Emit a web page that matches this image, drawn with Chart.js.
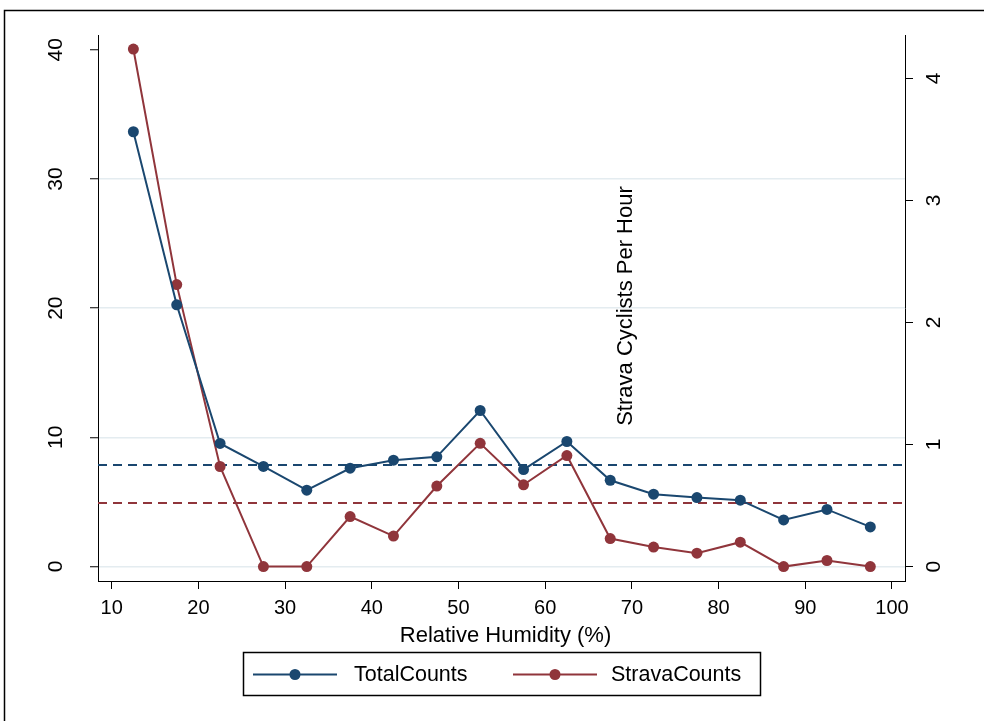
<!DOCTYPE html>
<html>
<head>
<meta charset="utf-8">
<script src="https://cdn.jsdelivr.net/npm/chart.js@4/dist/chart.umd.min.js"></script>
<style>
  html, body { margin: 0; padding: 0; background: #ffffff; }
  #wrap { width: 984px; height: 721px; position: relative; }
</style>
</head>
<body>
<div id="wrap"><canvas id="c" width="984" height="721"></canvas></div>
<script>
// ---- data ----
const humidity = [12.5, 17.5, 22.5, 27.5, 32.5, 37.5, 42.5, 47.5, 52.5, 57.5, 62.5, 67.5, 72.5, 77.5, 82.5, 87.5, 92.5, 97.5];
const totalCounts = [33.66, 20.26, 9.53, 7.75, 5.91, 7.61, 8.23, 8.49, 12.08, 7.51, 9.68, 6.68, 5.60, 5.34, 5.14, 3.61, 4.42, 3.07];
const stravaCounts = [4.24, 2.31, 0.82, 0.0, 0.0, 0.41, 0.25, 0.66, 1.01, 0.67, 0.91, 0.23, 0.16, 0.11, 0.20, 0.0, 0.05, 0.0];
const totalMean = 7.87;
const stravaMean = 0.52;
const seriesNames = ['TotalCounts', 'StravaCounts'];
const xTicks = [10, 20, 30, 40, 50, 60, 70, 80, 90, 100];
const leftTicks = [0, 10, 20, 30, 40];
const rightTicks = [0, 1, 2, 3, 4];
const xRange = [8.42, 101.5];
const leftRange = [-1.12, 41.15];
const rightRange = [-0.118, 4.355];
const xTitle = 'Relative Humidity (%)';
const rightTitle = 'Strava Cyclists Per Hour';

// ---- styles ----
const NAVY = '#1a476f';
const MAROON = '#90353b';
const GRID = '#e4ecf0';
const FONT = "'Liberation Sans', Arial, Helvetica, sans-serif";

const toPoints = (xs, ys) => xs.map((x, i) => ({ x: x, y: ys[i] }));

const decorPlugin = {
  id: 'decor',
  afterDraw(chart) {
    const ctx = chart.ctx;
    const ca = chart.chartArea;
    const yL = chart.scales.y;
    const yR = chart.scales.y2;
    ctx.save();
    ctx.fillStyle = '#000';
    ctx.textAlign = 'center';
    ctx.textBaseline = 'middle';
    // rotated tick labels
    ctx.font = '21px ' + FONT;
    yL.ticks.forEach(t => {
      const py = yL.getPixelForValue(t.value);
      ctx.save(); ctx.translate(55, py); ctx.rotate(-Math.PI / 2);
      ctx.fillText(String(t.value), 0, 1); ctx.restore();
    });
    yR.ticks.forEach(t => {
      const py = yR.getPixelForValue(t.value);
      ctx.save(); ctx.translate(933, py); ctx.rotate(-Math.PI / 2);
      ctx.fillText(String(t.value), 0, 1); ctx.restore();
    });
    // right axis title (drawn inside plot, as in original)
    ctx.font = '22px ' + FONT;
    ctx.save(); ctx.translate(626, 306); ctx.rotate(-Math.PI / 2);
    ctx.fillText(rightTitle, 0, 0); ctx.restore();
    // x title
    const cx = (ca.left + ca.right) / 2 + 4;
    ctx.fillText(xTitle, cx, 636);
    // legend
    const bx = 243.5, by = 652.5, bw = 517, bh = 43;
    ctx.strokeStyle = '#000'; ctx.lineWidth = 1.5;
    ctx.strokeRect(bx, by, bw, bh);
    const ly = 674.5;
    const entries = [
      { x0: 253, color: chart.data.datasets[0].borderColor, text: seriesNames[0], tx: 354 },
      { x0: 513, color: chart.data.datasets[1].borderColor, text: seriesNames[1], tx: 611 }
    ];
    ctx.font = '21.5px ' + FONT;
    ctx.textAlign = 'left';
    entries.forEach(e => {
      ctx.strokeStyle = e.color; ctx.lineWidth = 2;
      ctx.beginPath(); ctx.moveTo(e.x0, ly); ctx.lineTo(e.x0 + 84, ly); ctx.stroke();
      ctx.fillStyle = e.color;
      ctx.beginPath(); ctx.arc(e.x0 + 42, ly, 5.5, 0, Math.PI * 2); ctx.fill();
      ctx.fillStyle = '#000';
      ctx.fillText(e.text, e.tx, ly + 1);
    });
    // outer frame
    ctx.strokeStyle = '#000'; ctx.lineWidth = 1.5;
    ctx.strokeRect(4.5, 10.5, 1200, 1000);
    ctx.restore();
  }
};

new Chart(document.getElementById('c'), {
  type: 'line',
  data: {
    datasets: [
      { label: seriesNames[0], data: toPoints(humidity, totalCounts), yAxisID: 'y',
        borderColor: NAVY, backgroundColor: NAVY, borderWidth: 2, pointRadius: 5.5,
        pointBorderWidth: 0, pointHoverRadius: 5.5, tension: 0, order: 1 },
      { label: seriesNames[1], data: toPoints(humidity, stravaCounts), yAxisID: 'y2',
        borderColor: MAROON, backgroundColor: MAROON, borderWidth: 2, pointRadius: 5.5,
        pointBorderWidth: 0, pointHoverRadius: 5.5, tension: 0, order: 1 },
      { label: 'TotalMean', data: [{ x: xRange[0], y: totalMean }, { x: xRange[1], y: totalMean }],
        yAxisID: 'y', borderColor: NAVY, borderWidth: 2, borderDash: [9, 6], pointRadius: 0, order: 2 },
      { label: 'StravaMean', data: [{ x: xRange[0], y: stravaMean }, { x: xRange[1], y: stravaMean }],
        yAxisID: 'y2', borderColor: MAROON, borderWidth: 2, borderDash: [9, 6], pointRadius: 0, order: 2 }
    ]
  },
  options: {
    responsive: false,
    animation: false,
    layout: { padding: { top: 35, left: 0, right: 0, bottom: 0 } },
    plugins: { legend: { display: false }, tooltip: { enabled: false }, title: { display: false } },
    scales: {
      x: {
        type: 'linear', position: 'bottom', min: xRange[0], max: xRange[1],
        afterBuildTicks: s => { s.ticks = xTicks.map(v => ({ value: v })); },
        afterFit: s => { s.height = 140; },
        grid: { drawOnChartArea: false, drawTicks: true, tickLength: 8, tickColor: '#000', tickWidth: 1 },
        border: { display: true, color: '#000', width: 1 },
        ticks: { color: '#000', font: { family: FONT, size: 20 }, padding: 7, maxRotation: 0, minRotation: 0 }
      },
      y: {
        type: 'linear', position: 'left', min: leftRange[0], max: leftRange[1],
        afterBuildTicks: s => { s.ticks = leftTicks.map(v => ({ value: v })); },
        afterFit: s => { s.width = 98; },
        grid: {
          color: c => (c.tick && c.tick.value === leftTicks[leftTicks.length - 1]) ? 'rgba(0,0,0,0)' : GRID,
          lineWidth: 1.5, drawTicks: true, tickLength: 8, tickColor: '#000', tickWidth: 1
        },
        border: { display: true, color: '#000', width: 1 },
        ticks: { display: false }
      },
      y2: {
        type: 'linear', position: 'right', min: rightRange[0], max: rightRange[1],
        afterBuildTicks: s => { s.ticks = rightTicks.map(v => ({ value: v })); },
        afterFit: s => { s.width = 79; },
        grid: { drawOnChartArea: false, drawTicks: true, tickLength: 8, tickColor: '#000', tickWidth: 1 },
        border: { display: true, color: '#000', width: 1 },
        ticks: { display: false }
      }
    }
  },
  plugins: [decorPlugin]
});
</script>
</body>
</html>
